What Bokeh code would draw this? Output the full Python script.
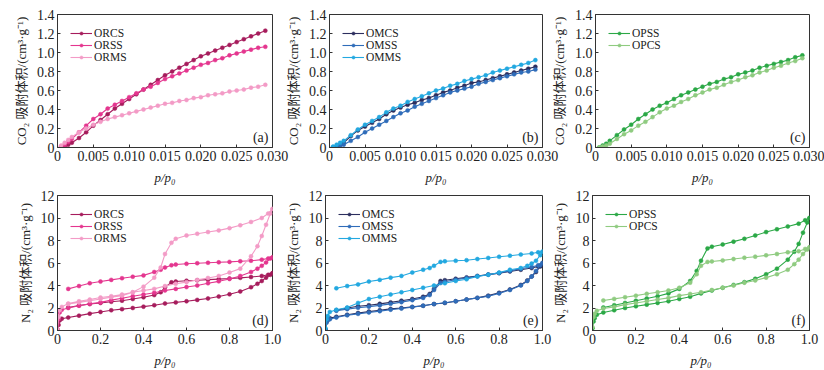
from bokeh.plotting import figure
from bokeh.layouts import row, column
from bokeh.models import FixedTicker, Label, Range1d
from bokeh.embed import file_html
from bokeh.resources import INLINE

# ---------------- data ----------------
CO2_X = [0.0005, 0.001, 0.0015, 0.002, 0.003, 0.004, 0.005, 0.006, 0.007, 0.008,
         0.009, 0.010, 0.011, 0.012, 0.013, 0.014, 0.015, 0.016, 0.017, 0.018,
         0.019, 0.020, 0.021, 0.022, 0.023, 0.024, 0.025, 0.026, 0.027, 0.028, 0.029]

ORCS_CO2 = [0.0, 0.01, 0.03, 0.05, 0.10, 0.16, 0.23, 0.29, 0.35, 0.41, 0.46, 0.51, 0.56, 0.61,
            0.66, 0.71, 0.76, 0.80, 0.84, 0.88, 0.92, 0.96, 0.99, 1.02, 1.05, 1.08, 1.11,
            1.14, 1.17, 1.20, 1.23]
ORSS_CO2 = [0.01, 0.03, 0.06, 0.09, 0.16, 0.23, 0.30, 0.35, 0.41, 0.45, 0.49, 0.53, 0.57, 0.61,
            0.64, 0.68, 0.72, 0.75, 0.78, 0.81, 0.84, 0.87, 0.89, 0.92, 0.94, 0.97, 0.99,
            1.01, 1.03, 1.05, 1.06]
ORMS_CO2 = [0.02, 0.05, 0.08, 0.11, 0.16, 0.20, 0.24, 0.27, 0.30, 0.32, 0.34, 0.36, 0.38, 0.40,
            0.42, 0.44, 0.46, 0.47, 0.49, 0.50, 0.52, 0.53, 0.55, 0.56, 0.57, 0.59, 0.60,
            0.61, 0.63, 0.64, 0.66]
OMCS_CO2 = [0.0, 0.01, 0.03, 0.05, 0.12, 0.18, 0.22, 0.26, 0.30, 0.35, 0.39, 0.42, 0.45, 0.47,
            0.50, 0.52, 0.55, 0.58, 0.60, 0.63, 0.65, 0.68, 0.69, 0.71, 0.73, 0.75, 0.77,
            0.79, 0.81, 0.83, 0.85]
OMSS_CO2 = [0.0, 0.0, 0.02, 0.03, 0.07, 0.11, 0.16, 0.20, 0.24, 0.28, 0.32, 0.36, 0.39, 0.43,
            0.46, 0.49, 0.52, 0.55, 0.58, 0.60, 0.62, 0.64, 0.67, 0.69, 0.71, 0.73, 0.75,
            0.77, 0.79, 0.80, 0.82]
OMMS_CO2 = [0.01, 0.03, 0.05, 0.07, 0.13, 0.19, 0.24, 0.28, 0.32, 0.37, 0.41, 0.44, 0.48, 0.51,
            0.54, 0.57, 0.60, 0.62, 0.65, 0.67, 0.70, 0.72, 0.74, 0.76, 0.79, 0.81, 0.83,
            0.85, 0.87, 0.89, 0.92]
OPSS_CO2 = [0.0, 0.02, 0.04, 0.07, 0.13, 0.19, 0.24, 0.30, 0.35, 0.40, 0.44, 0.47, 0.51, 0.55,
            0.58, 0.61, 0.64, 0.67, 0.69, 0.72, 0.74, 0.77, 0.79, 0.81, 0.84, 0.86, 0.88,
            0.90, 0.92, 0.95, 0.97]
OPCS_CO2 = [0.0, 0.01, 0.02, 0.04, 0.09, 0.14, 0.18, 0.23, 0.27, 0.32, 0.37, 0.41, 0.44, 0.48,
            0.51, 0.55, 0.58, 0.61, 0.63, 0.66, 0.69, 0.71, 0.74, 0.76, 0.79, 0.81, 0.84,
            0.86, 0.89, 0.91, 0.94]

N2_ADS_X = [0.0, 0.005, 0.01, 0.02, 0.05, 0.1, 0.15, 0.2, 0.25, 0.3, 0.35, 0.4, 0.45, 0.5,
            0.55, 0.6, 0.65, 0.7, 0.75, 0.8, 0.85, 0.9, 0.93, 0.95, 0.97, 0.99, 1.0]
N2_DES_X = [1.0, 0.98, 0.95, 0.9, 0.85, 0.8, 0.75, 0.7, 0.65, 0.6, 0.55, 0.53, 0.5, 0.48,
            0.45, 0.4, 0.35, 0.3, 0.25, 0.2, 0.15, 0.1, 0.05]

ORCS_ADS = [0.1, 0.5, 0.9, 1.05, 1.15, 1.32, 1.5, 1.65, 1.8, 1.9, 2.0, 2.12, 2.25, 2.4, 2.5,
            2.6, 2.72, 2.85, 3.02, 3.22, 3.47, 3.85, 4.15, 4.4, 4.7, 4.95, 5.1]
ORCS_DES = [5.1, 4.95, 4.85, 4.75, 4.68, 4.62, 4.57, 4.52, 4.46, 4.42, 4.35, 4.28, 3.85, 3.4,
            3.15, 2.95, 2.8, 2.65, 2.55, 2.45, 2.35, 2.22, 2.05]
ORSS_ADS = [0.1, 1.0, 1.6, 1.85, 2.0, 2.2, 2.37, 2.5, 2.7, 2.87, 3.05, 3.2, 3.35, 3.56, 3.7,
            3.86, 4.0, 4.2, 4.37, 4.58, 4.85, 5.2, 5.5, 5.75, 6.05, 6.4, 6.5]
ORSS_DES = [6.5, 6.4, 6.3, 6.2, 6.15, 6.1, 6.06, 6.02, 5.98, 5.93, 5.86, 5.8, 5.6, 5.4, 5.2,
            4.9, 4.78, 4.65, 4.5, 4.35, 4.2, 3.95, 3.7]
ORMS_ADS = [0.1, 1.2, 1.8, 2.1, 2.4, 2.6, 2.75, 2.93, 3.05, 3.2, 3.4, 3.56, 3.7, 3.95, 4.15,
            4.3, 4.5, 4.67, 4.85, 5.15, 5.5, 6.6, 7.5, 8.4, 9.4, 10.4, 10.8]
ORMS_DES = [10.8, 10.4, 10.0, 9.65, 9.35, 9.1, 8.9, 8.75, 8.6, 8.45, 8.15, 7.8, 6.8, 5.6, 4.7,
            3.9, 3.4, 3.1, 2.95, 2.8, 2.65, 2.5, 2.35]

OMCS_ADS = [0.1, 0.8, 1.0, 1.1, 1.22, 1.4, 1.55, 1.68, 1.8, 1.92, 2.0, 2.1, 2.2, 2.35, 2.45,
            2.6, 2.75, 2.9, 3.1, 3.35, 3.65, 4.05, 4.45, 4.8, 5.2, 5.7, 5.85]
OMCS_DES = [5.85, 5.7, 5.55, 5.4, 5.25, 5.1, 4.97, 4.85, 4.72, 4.6, 4.47, 4.4, 3.7, 3.25, 3.0,
            2.8, 2.65, 2.5, 2.37, 2.25, 2.15, 2.0, 1.8]
OMSS_ADS = [0.1, 0.7, 0.9, 1.0, 1.15, 1.35, 1.48, 1.6, 1.72, 1.85, 1.95, 2.08, 2.2, 2.35, 2.47,
            2.6, 2.75, 2.9, 3.05, 3.3, 3.6, 4.0, 4.4, 4.8, 5.3, 5.8, 6.0]
OMSS_DES = [6.0, 5.8, 5.65, 5.5, 5.3, 5.12, 4.97, 4.82, 4.67, 4.52, 4.33, 4.22, 3.6, 3.15, 2.9,
            2.7, 2.52, 2.37, 2.23, 2.12, 2.02, 1.9, 1.75]
OMMS_ADS = [0.2, 1.0, 1.3, 1.65, 1.85, 2.05, 2.45, 2.8, 3.0, 3.2, 3.4, 3.6, 3.8, 4.0, 4.2,
            4.4, 4.55, 4.8, 4.95, 5.15, 5.4, 5.55, 5.75, 5.95, 6.2, 6.7, 7.0]
OMMS_DES = [7.0, 6.95, 6.85, 6.75, 6.65, 6.55, 6.45, 6.35, 6.25, 6.2, 6.15, 6.1, 5.75, 5.55,
            5.4, 5.15, 4.85, 4.7, 4.5, 4.35, 4.1, 3.95, 3.75]

OPSS_ADS = [0.2, 0.8, 1.1, 1.4, 1.6, 1.8, 2.0, 2.15, 2.3, 2.45, 2.6, 2.8, 3.0, 3.3, 3.55,
            3.8, 4.05, 4.3, 4.6, 5.0, 5.5, 6.3, 7.0, 7.7, 8.7, 9.6, 10.0]
OPSS_DES = [10.0, 9.8, 9.5, 9.25, 9.0, 8.75, 8.45, 8.15, 7.9, 7.65, 7.45, 7.3, 6.2, 5.3, 4.4,
            3.7, 3.3, 3.05, 2.85, 2.65, 2.45, 2.25, 2.05]
OPCS_ADS = [0.3, 1.2, 1.5, 1.75, 1.95, 2.1, 2.3, 2.45, 2.6, 2.75, 2.9, 3.1, 3.25, 3.4, 3.6,
            3.8, 4.0, 4.25, 4.45, 4.7, 5.0, 5.4, 5.9, 6.3, 6.8, 7.2, 7.4]
OPCS_DES = [7.4, 7.25, 7.05, 6.95, 6.8, 6.68, 6.56, 6.47, 6.35, 6.23, 6.14, 6.1, 5.75, 5.0,
            4.25, 3.8, 3.56, 3.4, 3.26, 3.1, 2.96, 2.81, 2.67]

CO2_XTICKS = [0, 0.005, 0.010, 0.015, 0.020, 0.025, 0.030]
CO2_XLABELS = ["0", "0.005", "0.010", "0.015", "0.020", "0.025", "0.030"]
CO2_YTICKS = [0, 0.2, 0.4, 0.6, 0.8, 1.0, 1.2, 1.4]
CO2_YLABELS = ["0", "0.2", "0.4", "0.6", "0.8", "1.0", "1.2", "1.4"]
N2_XTICKS = [0, 0.2, 0.4, 0.6, 0.8, 1.0]
N2_XLABELS = ["0", "0.2", "0.4", "0.6", "0.8", "1.0"]
N2_YTICKS = [0, 2, 4, 6, 8, 10, 12]
N2_YLABELS = ["0", "2", "4", "6", "8", "10", "12"]

COLORS = {
    "ORCS": "#A61C5C", "ORSS": "#E4368F", "ORMS": "#F39BC6",
    "OMCS": "#2C2E5E", "OMSS": "#2F6CB9", "OMMS": "#23A8E0",
    "OPSS": "#2BA846", "OPCS": "#8FCB80",
}

FONT = "Liberation Serif, Noto Sans CJK SC"
TXT = "#222222"
CO2_YLABEL = "CO\u2082 吸附体积/(cm\u00b3\u00b7g\u207b\u00b9)"
N2_YLABEL = "N\u2082 吸附体积/(cm\u00b3\u00b7g\u207b\u00b9)"
XLABEL = "p/p\u2080"


def make_fig(width, height, left, right, top, bottom, xr, yr, xt, xl, yt, yl, ylabel, tag,
             shift):
    p = figure(width=width, height=height, output_backend="svg", toolbar_location=None,
               x_range=Range1d(*xr), y_range=Range1d(*yr),
               min_border_left=left, min_border_right=right,
               min_border_top=top, min_border_bottom=bottom,
               margin=(0, 0, 0, shift))
    p.border_fill_color = None
    p.grid.visible = False
    p.outline_line_color = "#333333"
    p.outline_line_width = 1
    p.xaxis.ticker = FixedTicker(ticks=xt)
    p.yaxis.ticker = FixedTicker(ticks=yt)
    p.xaxis.major_label_overrides = dict(zip(xt, xl))
    p.yaxis.major_label_overrides = dict(zip(yt, yl))
    for ax in (p.xaxis[0], p.yaxis[0]):
        ax.axis_line_color = "#333333"
        ax.major_tick_line_color = "#333333"
        ax.major_tick_in = 3
        ax.major_tick_out = 0
        ax.minor_tick_line_color = None
        ax.major_label_text_font = FONT
        ax.major_label_text_font_size = "14px"
        ax.major_label_text_color = TXT
        ax.axis_label_text_font = FONT
        ax.axis_label_text_font_size = "13px"
        ax.axis_label_text_color = TXT
        ax.axis_label_text_font_style = "normal"
        ax.major_label_standoff = 3
    p.xaxis.axis_label = XLABEL
    p.xaxis.axis_label_text_font_style = "italic"
    p.xaxis.axis_label_standoff = 6
    p.yaxis.axis_label = ylabel
    p.yaxis.axis_label_standoff = 5
    lab = Label(x=xr[1], y=yr[0], x_offset=-4, y_offset=3, text=tag,
                text_align="right", text_baseline="bottom",
                text_font=FONT, text_font_size="14px", text_color=TXT)
    p.add_layout(lab)
    return p


def style_legend(p):
    lg = p.legend[0]
    lg.location = "top_left"
    lg.margin = 13
    lg.padding = 2
    lg.spacing = 0
    lg.border_line_color = None
    lg.background_fill_alpha = 0
    lg.label_text_font = FONT
    lg.label_text_font_size = "11.5px"
    lg.label_text_color = TXT
    lg.label_height = 12
    lg.glyph_height = 8
    lg.glyph_width = 22
    lg.label_standoff = 2


def add_series(p, xs, ys, name):
    c = COLORS[name]
    p.line(xs, ys, line_color=c, line_width=1.1, legend_label=name)
    p.scatter(xs, ys, marker="circle", size=4, fill_color=c, line_color=c, line_width=0.5,
              legend_label=name)


# canvas geometry: a 0..292, b 282..562, c 548..824 (canvases overlap, borders transparent)
W = [292, 280, 276]
L = [57, 42, 44]
R = [20, 20, 15]
SHIFT = [0, -10, -14]
H1, H2 = 187, 183

co2_sets = [
    [("ORCS", ORCS_CO2), ("ORSS", ORSS_CO2), ("ORMS", ORMS_CO2)],
    [("OMCS", OMCS_CO2), ("OMSS", OMSS_CO2), ("OMMS", OMMS_CO2)],
    [("OPSS", OPSS_CO2), ("OPCS", OPCS_CO2)],
]
n2_sets = [
    [("ORCS", ORCS_ADS, ORCS_DES), ("ORSS", ORSS_ADS, ORSS_DES), ("ORMS", ORMS_ADS, ORMS_DES)],
    [("OMCS", OMCS_ADS, OMCS_DES), ("OMSS", OMSS_ADS, OMSS_DES), ("OMMS", OMMS_ADS, OMMS_DES)],
    [("OPSS", OPSS_ADS, OPSS_DES), ("OPCS", OPCS_ADS, OPCS_DES)],
]
top_tags = ["(a)", "(b)", "(c)"]
bot_tags = ["(d)", "(e)", "(f)"]

row1 = []
for i in range(3):
    p = make_fig(W[i], H1, L[i], R[i], 14, 39, (0, 0.030), (0, 1.4),
                 CO2_XTICKS, CO2_XLABELS, CO2_YTICKS, CO2_YLABELS, CO2_YLABEL, top_tags[i],
                 SHIFT[i])
    for name, ys in co2_sets[i]:
        add_series(p, CO2_X, ys, name)
    style_legend(p)
    row1.append(p)

row2 = []
for i in range(3):
    p = make_fig(W[i], H2, L[i], R[i], 8, 40, (0, 1.0), (0, 12),
                 N2_XTICKS, N2_XLABELS, N2_YTICKS, N2_YLABELS, N2_YLABEL, bot_tags[i],
                 SHIFT[i])
    for name, ads, des in n2_sets[i]:
        add_series(p, N2_ADS_X + N2_DES_X, ads + des, name)
    style_legend(p)
    row2.append(p)

layout = column(row(*row1), row(*row2))

open("out.html", "w").write(file_html(layout, INLINE))
